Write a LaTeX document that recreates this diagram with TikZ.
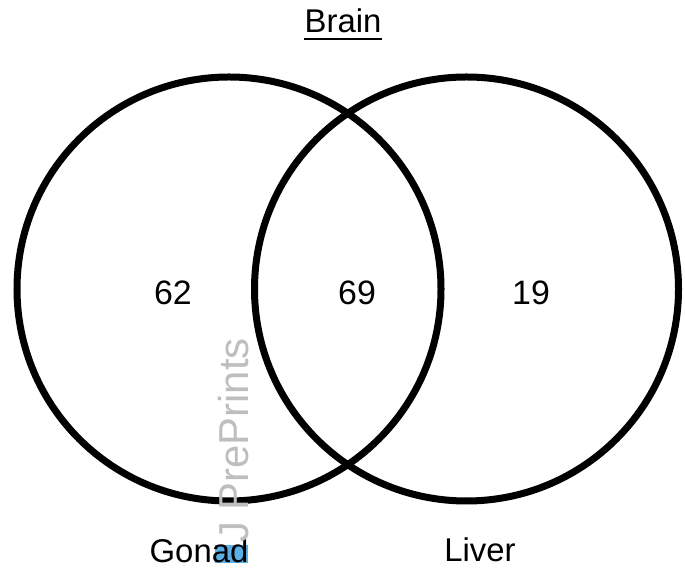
\documentclass[tikz,border=0pt]{standalone}
\usepackage{fontspec}
\setmainfont{Liberation Sans}
\usepackage{tikz}
\usetikzlibrary{positioning}
\definecolor{MarkGray}{RGB}{190, 190, 190}
\definecolor{MarkBlue}{RGB}{90, 175, 230}

\begin{document}
\begin{tikzpicture}[x=1bp, y=1bp,
    vennset/.style={circle, draw=black, line width=7bp, minimum size=424bp, inner sep=0pt},
    countlabel/.style={anchor=base, inner sep=0pt, font=\fontsize{34}{40}\selectfont},
    setlabel/.style={anchor=base, inner sep=0pt, font=\fontsize{33}{40}\selectfont}]
    \useasboundingbox (0,0) rectangle (685,571);

    % Sets
    \node[vennset] (gonadset) at (229,282) {};
    \node[vennset] (liverset) at (466.5,282) {};

    % Highlight mark under the label
    \fill[MarkBlue] (215,8) rectangle (248,26);

    % Counts
    \node[countlabel] (onlygonad) at (173,266) {62};
    \node[countlabel] (shared) at (357,266) {69};
    \node[countlabel] (onlyliver) at (531,266) {19};

    % Labels
    \node[setlabel] (brain) at (343,538) {Brain};
    \draw[line width=2bp] ([yshift=-6bp]brain.base west) -- ([yshift=-6bp]brain.base east);
    \node[setlabel] (gonad) at (199,8) {Gonad};
    \node[setlabel] (liver) at (480,9) {Liver};

    % Watermark
    \node[anchor=base west, rotate=90, inner sep=0pt, text=MarkGray,
      font=\fontsize{42}{48}\selectfont] (mark) at (248,28) {J PrePrints};
\end{tikzpicture}
\end{document}
